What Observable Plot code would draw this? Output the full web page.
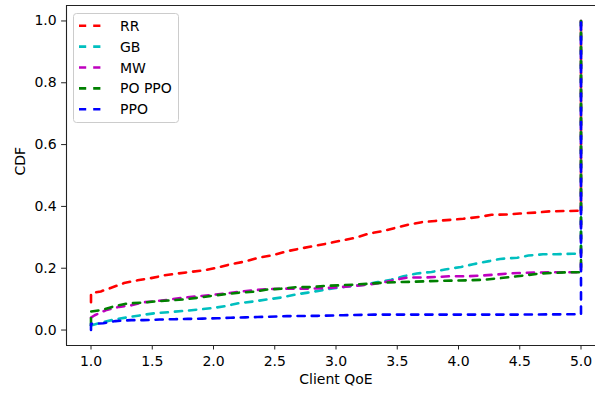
<!DOCTYPE html>
<html><head><meta charset="utf-8">
<script src="https://cdn.jsdelivr.net/npm/d3@7"></script>
<script src="https://cdn.jsdelivr.net/npm/@observablehq/plot@0.6"></script>
<style>body{margin:0;background:#fff} svg{font-family:"DejaVu Sans"}</style>
</head><body><div id="chart"></div><script>
const seriesNames = ["RR", "GB", "MW", "PO PPO", "PPO"];
const seriesColors = ["#ff0000", "#00bfbf", "#bf00bf", "#008000", "#0000ff"];
const rr = [[1.0,0.09],[1.0,0.119],[1.08,0.125],[1.16,0.136],[1.27,0.152],[1.38,0.161],[1.49,0.168],[1.60,0.177],[1.71,0.183],[1.81,0.188],[1.92,0.193],[2.03,0.202],[2.14,0.213],[2.25,0.221],[2.37,0.234],[2.48,0.242],[2.60,0.255],[2.70,0.263],[2.82,0.272],[2.93,0.280],[3.05,0.290],[3.15,0.298],[3.27,0.312],[3.38,0.320],[3.49,0.331],[3.59,0.341],[3.70,0.349],[3.81,0.353],[3.95,0.357],[4.04,0.360],[4.17,0.366],[4.27,0.373],[4.40,0.374],[4.50,0.377],[4.63,0.380],[4.74,0.384],[4.86,0.385],[5.0,0.386],[5.0,1.0]];
const gb = [[1.0,0.015],[1.1,0.026],[1.19,0.034],[1.31,0.042],[1.41,0.048],[1.53,0.055],[1.64,0.058],[1.76,0.062],[1.87,0.066],[1.99,0.071],[2.09,0.077],[2.21,0.087],[2.32,0.092],[2.44,0.099],[2.55,0.105],[2.67,0.115],[2.77,0.121],[2.92,0.131],[3.0,0.136],[3.12,0.142],[3.23,0.147],[3.34,0.155],[3.45,0.163],[3.55,0.174],[3.66,0.183],[3.78,0.188],[3.89,0.196],[4.02,0.204],[4.12,0.213],[4.25,0.223],[4.34,0.230],[4.48,0.234],[4.57,0.241],[4.69,0.245],[4.80,0.245],[4.93,0.247],[5.0,0.247],[5.0,1.0]];
const mw = [[1.0,0.04],[1.03,0.048],[1.12,0.064],[1.23,0.075],[1.33,0.080],[1.43,0.090],[1.54,0.094],[1.65,0.099],[1.76,0.105],[1.87,0.109],[1.99,0.114],[2.10,0.118],[2.21,0.124],[2.33,0.129],[2.44,0.132],[2.55,0.134],[2.67,0.134],[2.79,0.134],[2.92,0.136],[3.04,0.139],[3.15,0.143],[3.26,0.147],[3.36,0.152],[3.49,0.163],[3.59,0.170],[3.72,0.170],[3.83,0.172],[3.93,0.174],[4.06,0.174],[4.18,0.176],[4.29,0.179],[4.41,0.183],[4.53,0.185],[4.64,0.186],[4.75,0.187],[4.86,0.187],[5.0,0.187],[5.0,1.0]];
const poppo = [[1.0,0.015],[1.0,0.06],[1.09,0.065],[1.20,0.078],[1.30,0.086],[1.43,0.089],[1.54,0.093],[1.65,0.096],[1.76,0.099],[1.88,0.105],[1.99,0.111],[2.10,0.116],[2.21,0.121],[2.33,0.124],[2.44,0.131],[2.56,0.134],[2.68,0.139],[2.79,0.139],[2.92,0.143],[3.04,0.145],[3.15,0.147],[3.27,0.150],[3.38,0.153],[3.50,0.155],[3.62,0.156],[3.74,0.158],[3.85,0.159],[3.97,0.160],[4.08,0.161],[4.21,0.163],[4.32,0.167],[4.44,0.172],[4.55,0.177],[4.67,0.183],[4.78,0.185],[4.90,0.187],[5.0,0.187],[5.0,1.0]];
const ppo = [[1.0,0.0],[1.0,0.02],[1.1,0.022],[1.2,0.029],[1.33,0.032],[1.43,0.032],[1.56,0.034],[1.68,0.035],[1.79,0.036],[1.91,0.037],[2.03,0.038],[2.14,0.040],[2.26,0.041],[2.36,0.042],[2.60,0.045],[2.85,0.046],[3.06,0.048],[3.31,0.050],[3.50,0.050],[4.0,0.050],[4.5,0.050],[4.9,0.051],[5.0,0.051],[5.0,1.0]];
const xTicks = [1.0,1.5,2.0,2.5,3.0,3.5,4.0,4.5,5.0];
const xTickLabels = ["1.0","1.5","2.0","2.5","3.0","3.5","4.0","4.5","5.0"];
const yTicks = [0,0.2,0.4,0.6,0.8,1.0];
const yTickLabels = ["0.0","0.2","0.4","0.6","0.8","1.0"];
const xLabel = "Client QoE";
const yLabel = "CDF";

const seriesData = [rr, gb, mw, poppo, ppo];
const dash = "7.2,7";
const fs = 14;

const plot = Plot.plot({
  width: 595, height: 396,
  marginLeft: 66, marginRight: -10, marginTop: 5, marginBottom: 51,
  style: {fontFamily: "DejaVu Sans", fontSize: fs + "px", background: "white", color: "black", overflow: "hidden"},
  x: {domain: [0.8, 5.2]},
  y: {domain: [-0.05, 1.05]},
  marks: [
    ...seriesData.map((d, i) => Plot.line(d, {x: p => p[0], y: p => p[1], stroke: seriesColors[i], strokeWidth: 2.6, strokeDasharray: dash})),
    Plot.axisX({ticks: xTicks, tickFormat: (d, i) => xTickLabels[i], tickSize: 4.5, tickPadding: 6, label: null, fontSize: fs, stroke: "#222"}),
    Plot.axisY({ticks: yTicks, tickFormat: (d, i) => yTickLabels[i], tickSize: 4.9, tickPadding: 4.9, label: null, fontSize: fs, stroke: "#222"}),
    Plot.ruleX([0.8], {stroke: "#222", strokeWidth: 1.1}),
    Plot.ruleY([-0.05], {stroke: "#222", strokeWidth: 1.1}),
    Plot.ruleY([1.05], {stroke: "#222", strokeWidth: 1.1}),
    Plot.text([xLabel], {text: d => d, frameAnchor: "bottom", dy: 38, fontSize: fs, fill: "black"}),
    Plot.text([yLabel], {text: d => d, frameAnchor: "left", dx: -46, rotate: -90, fontSize: fs, fill: "black"})
  ]
});
document.getElementById("chart").appendChild(plot);

// legend
const svg = d3.select(plot);
const lg = svg.append("g").attr("font-family", "DejaVu Sans").attr("font-size", fs + "px").attr("text-anchor", "start");
lg.append("rect").attr("x", 73.5).attr("y", 13.5).attr("width", 105).attr("height", 109).attr("rx", 3)
  .attr("fill", "white").attr("fill-opacity", 0.8).attr("stroke", "#cccccc").attr("stroke-width", 1);
seriesNames.forEach((name, i) => {
  const cy = 25.7 + i * 20.9;
  lg.append("line").attr("x1", 79).attr("x2", 107).attr("y1", cy).attr("y2", cy)
    .attr("stroke", seriesColors[i]).attr("stroke-width", 2.6).attr("stroke-dasharray", dash);
  lg.append("text").attr("x", 120).attr("y", cy).attr("dy", "0.36em").attr("text-anchor", "start").attr("fill", "black").text(name);
});
</script></body></html>
